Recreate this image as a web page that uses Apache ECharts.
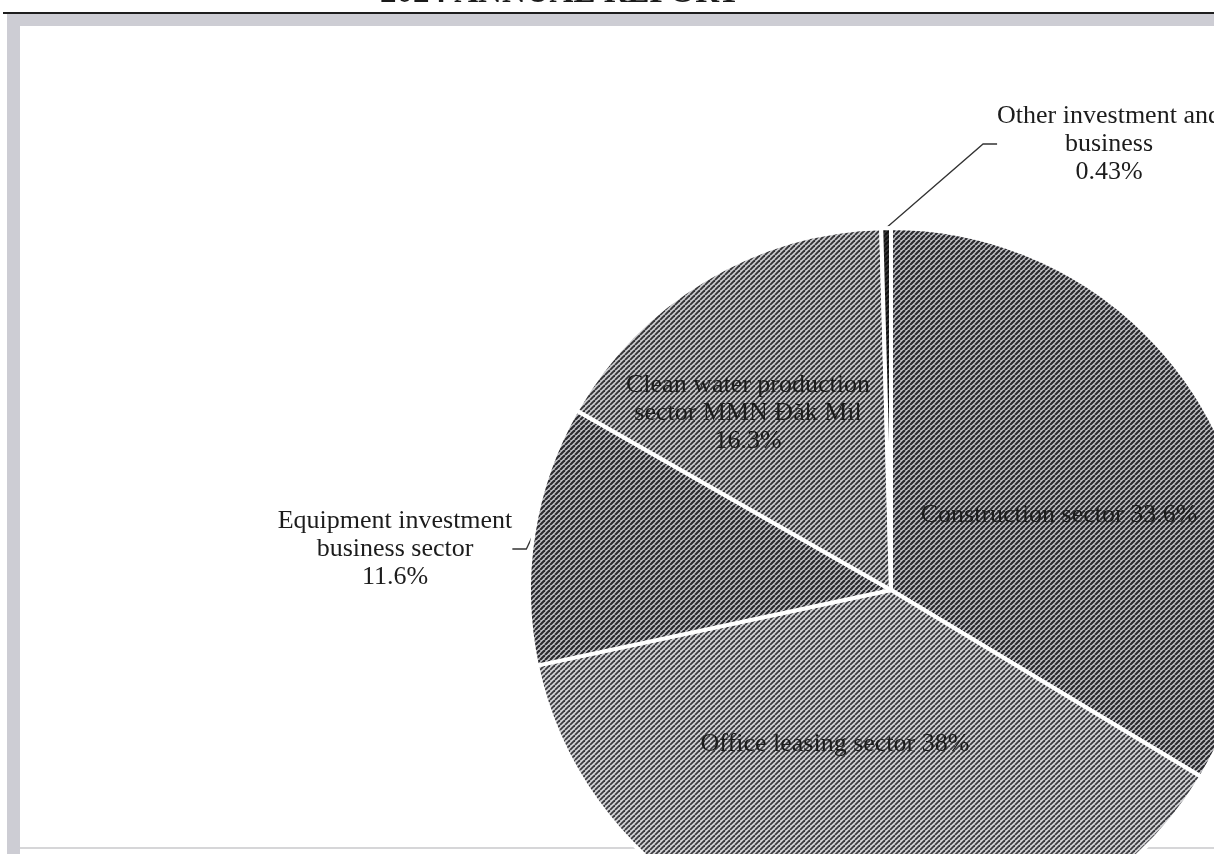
<!DOCTYPE html>
<html>
<head>
<meta charset="utf-8">
<script src="https://cdn.jsdelivr.net/npm/echarts@6/dist/echarts.min.js"></script>
<style>
html,body{margin:0;padding:0;background:#fff;}
#c{width:1214px;height:854px;}
</style>
</head>
<body>
<div id="c"></div>
<script>
// ---- data ----
const categories = [
  'Construction sector',
  'Office leasing sector',
  'Equipment investment\nbusiness sector',
  'Clean water production\nsector MMN Đăk Mil',
  'Other investment and\nbusiness'
];
const values = [33.6, 38, 11.6, 16.3, 0.43];
const labelInside = [true, true, false, true, false];
const titleText = '2024 ANNUAL REPORT';

// ---- styles ----
function hatch(bg, fg, w) {
  const s = 5;
  const c = document.createElement('canvas');
  c.width = s; c.height = s;
  const g = c.getContext('2d');
  g.fillStyle = bg; g.fillRect(0, 0, s, s);
  g.strokeStyle = fg; g.lineWidth = w;
  [-s, 0, s].forEach(function (o) {
    g.beginPath(); g.moveTo(o, s); g.lineTo(o + s, 0); g.stroke();
  });
  return { image: c, repeat: 'repeat' };
}
const fills = [
  hatch('#c2c2c6', '#2a2a2e', 2.2),
  hatch('#d2d2d5', '#3a3a3e', 1.8),
  hatch('#c2c2c6', '#2a2a2e', 2.2),
  hatch('#cacacd', '#333336', 1.9),
  hatch('#3a3a3a', '#111111', 2)
];
// label anchor positions (centre of text block)
const labelPos = [
  [1059, 515],
  [835, 744],
  [395, 549],
  [748, 413],
  [1109, 144]
];

const font = '"Liberation Serif", "Times New Roman", serif';

const data = categories.map(function (name, i) {
  return {
    name: name,
    value: values[i],
    itemStyle: { color: fills[i] },
    label: { position: labelInside[i] ? 'inside' : 'outside' },
    labelLine: { show: !labelInside[i] }
  };
});

const chart = echarts.init(document.getElementById('c'), null, { renderer: 'canvas' });
chart.setOption({
  backgroundColor: '#ffffff',
  animation: false,
  graphic: [
    { type: 'text', x: 380, y: -23, z: 10,
      style: { text: titleText, font: 'bold 33px ' + font, fill: '#1a1a1a' } },
    { type: 'rect', shape: { x: 3, y: 12, width: 1211, height: 2 }, style: { fill: '#1e1e1e' }, z: 11 },
    { type: 'rect', shape: { x: 7, y: 14, width: 1207, height: 12 }, style: { fill: '#cdcdd4' }, z: 10 },
    { type: 'rect', shape: { x: 7, y: 14, width: 13, height: 840 }, style: { fill: '#cdcdd4' }, z: 10 },
    { type: 'rect', shape: { x: 20, y: 847, width: 1194, height: 2 }, style: { fill: '#d6d6d8' }, z: 0 }
  ],
  series: [{
    type: 'pie',
    center: [891, 590],
    radius: 362,
    startAngle: 90,
    clockwise: true,
    avoidLabelOverlap: false,
    silent: true,
    itemStyle: { borderColor: '#ffffff', borderWidth: 4 },
    label: {
      show: true,
      color: '#1c1c1c',
      fontFamily: font,
      fontSize: 26,
      lineHeight: 28,
      formatter: function (p) {
        return p.name + (p.name.indexOf('\n') >= 0 ? '\n' : ' ') + p.value + '%';
      }
    },
    labelLine: {
      show: true,
      length: 6,
      length2: 14,
      lineStyle: { color: '#333333', width: 1.3 }
    },
    labelLayout: function (params) {
      const p = labelPos[params.dataIndex];
      return { x: p[0], y: p[1], align: 'center', verticalAlign: 'middle' };
    },
    emphasis: { disabled: true },
    data: data
  }]
});
</script>
</body>
</html>
